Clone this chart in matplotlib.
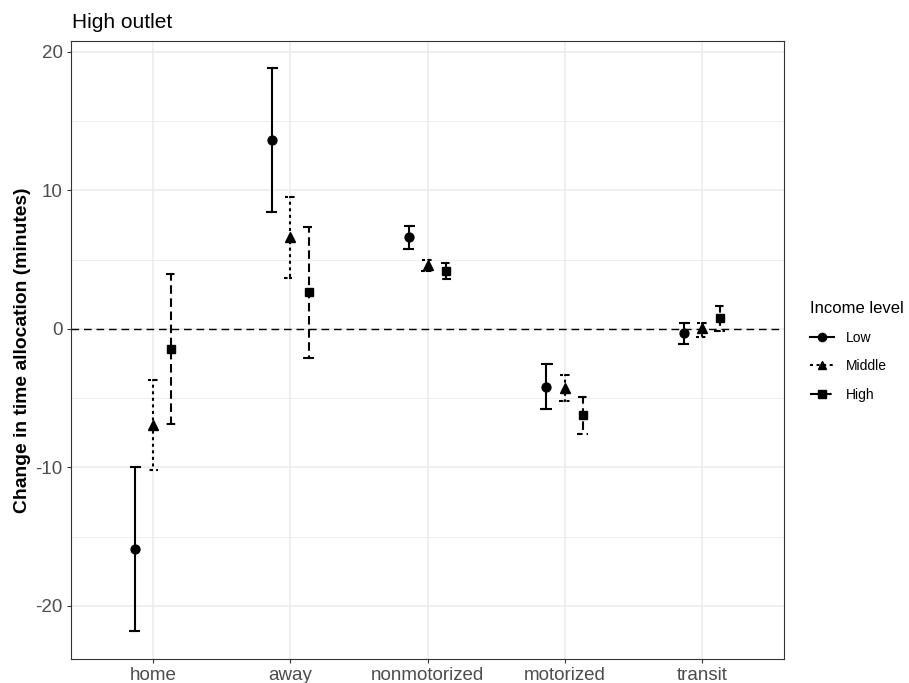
import matplotlib
matplotlib.use("Agg")
import matplotlib.pyplot as plt
from matplotlib.lines import Line2D
import numpy as np

plt.rcParams['font.family'] = ['Liberation Sans', 'DejaVu Sans']
plt.rcParams['axes.unicode_minus'] = False

# ---- data ----
categories = ['home', 'away', 'nonmotorized', 'motorized', 'transit']
groups = ['Low', 'Middle', 'High']

low_est = [-15.9, 13.65, 6.64, -4.19, -0.29]
low_lo = [-21.8, 8.45, 5.78, -5.78, -1.08]
low_hi = [-9.96, 18.85, 7.44, -2.53, 0.43]

mid_est = [-6.93, 6.64, 4.62, -4.26, 0.05]
mid_lo = [-10.2, 3.68, 4.19, -5.2, -0.58]
mid_hi = [-3.68, 9.53, 4.98, -3.32, 0.43]

high_est = [-1.44, 2.67, 4.19, -6.21, 0.79]
high_lo = [-6.86, -2.09, 3.6, -7.58, -0.14]
high_hi = [3.97, 7.37, 4.77, -4.91, 1.66]

yticks = [-20, -10, 0, 10, 20]

# ---- styles ----
est = [low_est, mid_est, high_est]
lo = [low_lo, mid_lo, high_lo]
hi = [low_hi, mid_hi, high_hi]
styles = ['-', (0, (1.45, 1.7)), (0, (4.1, 2.2))]
markers = ['o', '^', 's']
msizes = [6.4, 6.8, 5.6]
offsets = [-0.1333, 0.0, 0.1333]
cap = 0.037
lw = 1.5

W, H = 909, 683
fig = plt.figure(figsize=(W / 100, H / 100), dpi=100)
ax = fig.add_axes([71 / W, 1 - 659 / H, (784 - 71) / W, (659 - 41) / H])

x = np.arange(len(categories))

ax.axhline(0, color='black', lw=1.0, linestyle=(0, (5.5, 3.5)), zorder=2)

for g in range(3):
    for i in range(len(categories)):
        xc = x[i] + offsets[g]
        # errorbar as one path, like ggplot draws it
        px = [xc - cap, xc + cap, xc, xc, xc - cap, xc + cap]
        py = [hi[g][i], hi[g][i], hi[g][i], lo[g][i], lo[g][i], lo[g][i]]
        ax.plot(px, py, color='black', lw=lw, linestyle=styles[g],
                solid_capstyle='butt', dash_capstyle='butt', zorder=3)
    ax.plot(x + offsets[g], est[g], linestyle='none', marker=markers[g],
            markersize=msizes[g], color='black', zorder=4)

ax.set_xlim(-0.597, 4.597)
ax.set_ylim(-23.83, 20.79)
ax.set_xticks(x)
ax.set_xticklabels(categories)
ax.set_yticks(yticks)
ax.set_yticklabels([str(v) for v in yticks])
ax.set_yticks([-15, -5, 5, 15], minor=True)

ax.grid(True, which='major', color='#EBEBEB', lw=1.1, zorder=0)
ax.grid(True, which='minor', axis='y', color='#EBEBEB', lw=0.6, zorder=0)
ax.set_axisbelow(True)
ax.tick_params(which='minor', length=0)
ax.tick_params(which='major', length=3, width=0.8, color='#333333',
               labelcolor='#4D4D4D', labelsize=13.5, pad=3)
for s in ax.spines.values():
    s.set_color('#333333')
    s.set_linewidth(0.8)

ax.set_ylabel('Change in time allocation (minutes)', fontsize=13.9,
              fontweight='bold', color='black')
ax.yaxis.set_label_coords((31 - 71) / (784 - 71), 0.5)

fig.text(72 / W, 1 - 28 / H, 'High outlet', fontsize=15, va='baseline',
         ha='left', color='black')

handles = [Line2D([0], [0], color='black', lw=lw, linestyle=styles[g],
                  marker=markers[g], markersize=msizes[g] - 0.5)
           for g in range(3)]
leg = fig.legend(handles, groups, title='Income level', loc='upper left',
                 bbox_to_anchor=(803 / W, 1 - 294 / H), frameon=False,
                 fontsize=10, title_fontsize=12, handlelength=1.75,
                 handletextpad=0.85, labelspacing=1.05, borderpad=0,
                 alignment='left')

fig.savefig('out.png', dpi=100)
